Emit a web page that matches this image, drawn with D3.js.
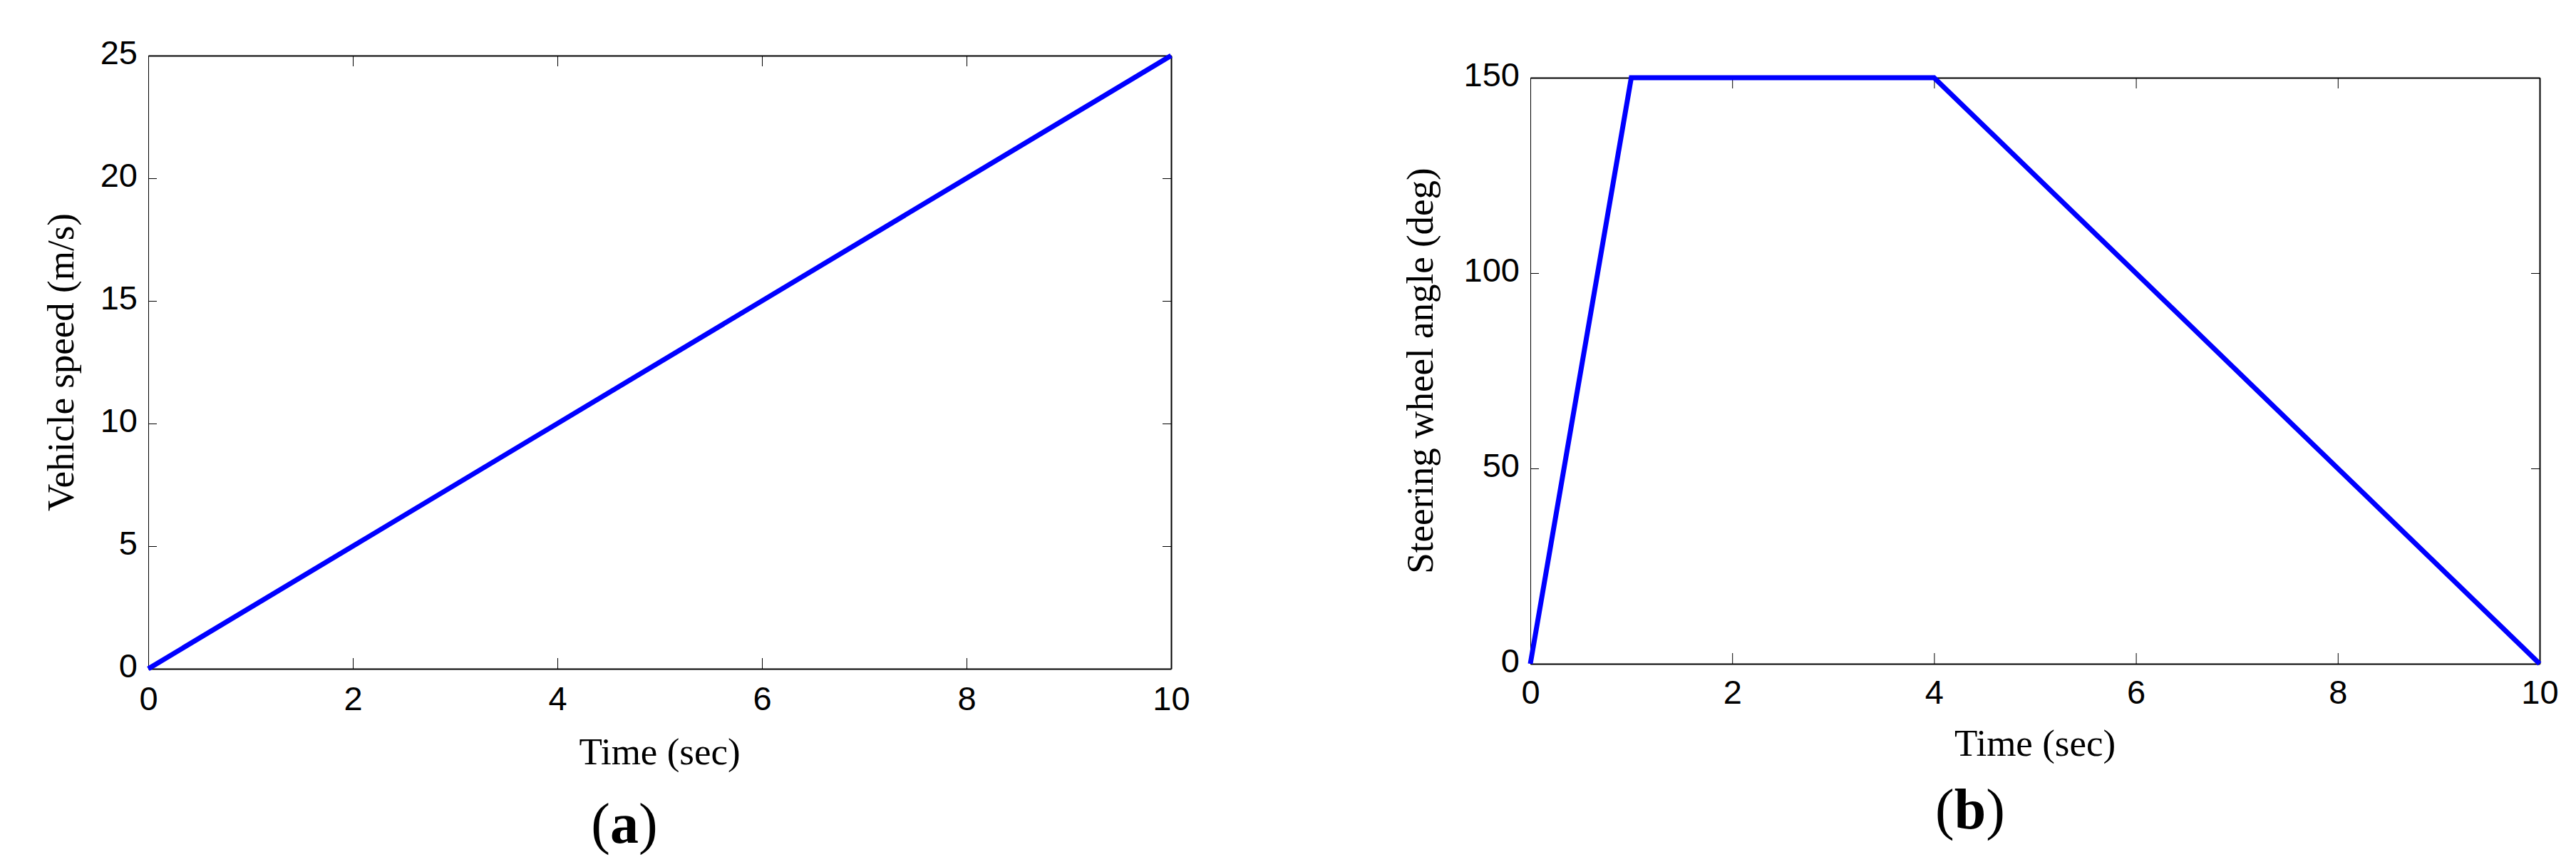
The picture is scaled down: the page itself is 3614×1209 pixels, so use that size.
<!DOCTYPE html>
<html>
<head>
<meta charset="utf-8">
<script src="https://cdn.jsdelivr.net/npm/d3@7"></script>
<style>
  body { margin: 0; background: #fff; }
  svg { display: block; }
</style>
</head>
<body>
<script>
// DATA ––––––––––––––––––––––––––––––––––––––––––––––––––––––––––––––––

var speedTime = [0, 10];            // sec
var speedValues = [0, 25];          // m/s
var steerTime = [0, 1, 4, 10];      // sec
var steerValues = [0, 150, 150, 0]; // deg

var timeTicks = [0, 2, 4, 6, 8, 10];
var speedTicks = [0, 5, 10, 15, 20, 25];
var steerTicks = [0, 50, 100, 150];

var panels = [
  {
    time: speedTime, values: speedValues, yTicks: speedTicks, yMax: 25,
    xLabel: "Time (sec)", yLabel: "Vehicle speed (m/s)", tag: "a",
    box: {left: 208, right: 1643, top: 78, bottom: 938},
    xLabelY: 1072, yLabelX: 103, tagX: 876, tagY: 1182, xTickPad: 25
  },
  {
    time: steerTime, values: steerValues, yTicks: steerTicks, yMax: 150,
    xLabel: "Time (sec)", yLabel: "Steering wheel angle (deg)", tag: "b",
    box: {left: 2147, right: 3563, top: 109, bottom: 931},
    xLabelY: 1060, yLabelX: 2010, tagX: 2764, tagY: 1162, xTickPad: 23
  }
];

// DRAW ––––––––––––––––––––––––––––––––––––––––––––––––––––––––––––––––

var width = 3614,
    height = 1209;

var svg = d3.select("body").append("svg")
    .attr("width", width)
    .attr("height", height);

var styleAxis = function(g, domainWidth, keepText) {
  g.select(".domain").attr("stroke", "#000").attr("stroke-width", domainWidth);
  g.selectAll(".tick line").attr("stroke", "#000").attr("stroke-width", 1);
  if (!keepText) g.selectAll(".tick text").remove();
  g.selectAll(".tick text")
    .attr("fill", "#000")
    .style("font-family", "'Liberation Sans', Arial, sans-serif")
    .style("font-size", "47px");
};

var drawPanel = function(p) {
  var b = p.box;

  var x = d3.scaleLinear().domain([0, 10]).range([b.left, b.right]);
  var y = d3.scaleLinear().domain([0, p.yMax]).range([b.bottom, b.top]);

  var g = svg.append("g");

  // box with inward ticks on all four sides
  g.append("g")
      .attr("transform", "translate(0," + b.top + ")")
      .call(d3.axisTop(x).tickValues(timeTicks).tickSize(-15).tickSizeOuter(0))
      .call(styleAxis, 2, false);

  g.append("g")
      .attr("transform", "translate(" + b.right + ",0)")
      .call(d3.axisRight(y).tickValues(p.yTicks).tickSize(-12).tickSizeOuter(0))
      .call(styleAxis, 2, false);

  g.append("g")
      .attr("transform", "translate(0," + b.bottom + ")")
      .call(d3.axisBottom(x).tickValues(timeTicks).tickSize(-15).tickSizeOuter(0)
        .tickPadding(p.xTickPad))
      .call(styleAxis, 2, true);

  g.append("g")
      .attr("transform", "translate(" + b.left + ",0)")
      .call(d3.axisLeft(y).tickValues(p.yTicks).tickSize(-12).tickSizeOuter(0)
        .tickPadding(15))
      .call(styleAxis, 1, true)
      .selectAll(".tick text").attr("dy", "0.25em");

  // series line
  var pts = p.time.map(function(t, i) { return [t, p.values[i]]; });
  var line = d3.line()
    .x(function(d) { return x(d[0]); })
    .y(function(d) { return y(d[1]); });

  g.append("path")
      .datum(pts)
      .attr("fill", "none")
      .attr("stroke", "#0000ff")
      .attr("stroke-width", 7)
      .attr("stroke-linejoin", "miter")
      .attr("stroke-linecap", "butt")
      .attr("d", line);

  // labels
  var serif = "'Liberation Serif', 'Times New Roman', serif";

  g.append("text")
      .attr("x", (b.left + b.right) / 2)
      .attr("y", p.xLabelY)
      .attr("text-anchor", "middle")
      .style("font-family", serif)
      .style("font-size", "53px")
      .text(p.xLabel);

  g.append("text")
      .attr("transform", "translate(" + p.yLabelX + "," + (b.top + b.bottom) / 2 + ") rotate(-90)")
      .attr("text-anchor", "middle")
      .style("font-family", serif)
      .style("font-size", "53px")
      .text(p.yLabel);

  var tag = g.append("text")
      .attr("x", p.tagX)
      .attr("y", p.tagY)
      .attr("text-anchor", "middle")
      .style("font-family", serif)
      .style("font-size", "80px");
  tag.append("tspan").text("(");
  tag.append("tspan").style("font-weight", "bold").text(p.tag);
  tag.append("tspan").text(")");
};

panels.forEach(drawPanel);
</script>
</body>
</html>
